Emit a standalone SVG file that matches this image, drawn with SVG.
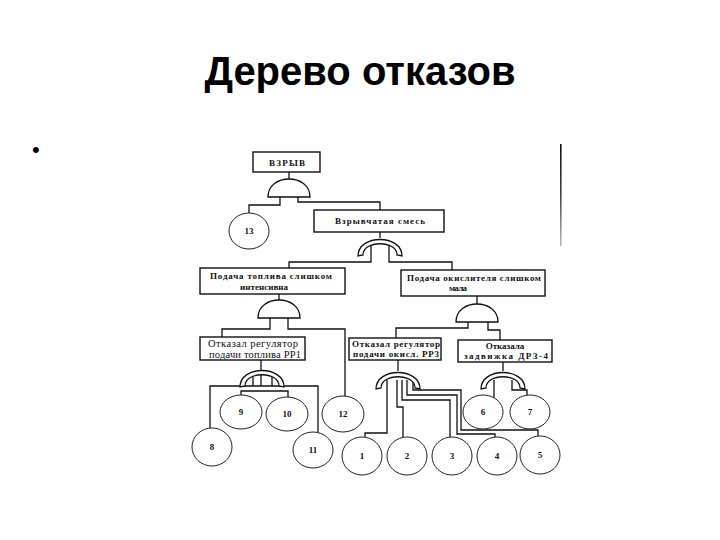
<svg xmlns="http://www.w3.org/2000/svg" xmlns:xlink="http://www.w3.org/1999/xlink" width="720" height="540" viewBox="0 0 720 540">
<style>
.bg{fill:#ffffff}
.box{fill:#ffffff;stroke:#111;stroke-width:1.4}
.circ{fill:#ffffff;stroke:#222;stroke-width:1}
.gate{fill:#ffffff;stroke:#111;stroke-width:1.3}
.con{fill:none;stroke:#111;stroke-width:1.3}
.lbl{font-family:"Liberation Serif","DejaVu Serif",serif;font-size:9px;font-weight:bold;fill:#111;text-anchor:middle}
.lbl2{font-family:"Liberation Serif","DejaVu Serif",serif;font-size:10.5px;fill:#111;text-anchor:middle}
.num{font-family:"Liberation Serif","DejaVu Serif",serif;font-size:9px;font-weight:bold;fill:#111;text-anchor:middle}
.title{font-family:"Liberation Sans",Arial,sans-serif;font-size:40px;font-weight:bold;fill:#000;text-anchor:middle}
.bullet{font-family:"Liberation Sans",Arial,sans-serif;font-size:22px;fill:#000}
</style>
<defs>
<path id="andg" class="gate" d="M-21,0 C-21,-24 21,-24 21,0 Z"/>
<path id="org" class="gate" d="M-22,2 C-22,-20 22,-20 22,2 L17,1 C17,-14 -17,-14 -17,1 Z"/>
<linearGradient id="fade" x1="0" y1="0" x2="0" y2="1">
<stop offset="0" stop-color="#111"/>
<stop offset="0.5" stop-color="#444"/>
<stop offset="1" stop-color="#bbb"/>
</linearGradient>
</defs>
<rect class="bg" x="0" y="0" width="720" height="540"/>
<text class="title" x="360" y="85">Дерево отказов</text>
<text class="bullet" x="32" y="157">•</text>
<rect x="560" y="144" width="1.6" height="102" fill="url(#fade)"/>

<g id="connectors">
<path class="con" d="M289,172 V179"/>
<path class="con" d="M280,197 V205 H249 V213"/>
<path class="con" d="M298,197 V202 H380 V210"/>
<path class="con" d="M380,232 V238"/>
<path class="con" d="M371,246 V262 H289 V268"/>
<path class="con" d="M389,246 V262 H452 V270"/>
<path class="con" d="M279,294 V300"/>
<path class="con" d="M270,318 V329 H222 V337"/>
<path class="con" d="M288,318 V329 H345 V396"/>
<path class="con" d="M477,296 V304"/>
<path class="con" d="M468,322 V328 H396 V338"/>
<path class="con" d="M488,322 V330 H500 V340"/>
<path class="con" d="M261,360 V386"/>
<path class="con" d="M253,377 V386"/>
<path class="con" d="M272,377 V386"/>
<path class="con" d="M210,428 V386 H318 V432"/>
<path class="con" d="M241,395 V391 H288 V397"/>
<path class="con" d="M398,360 V371"/>
<path class="con" d="M387,380 V433 H365 V437"/>
<path class="con" d="M397,380 V407 H403 V437"/>
<path class="con" d="M402,380 V400 H450 V437"/>
<path class="con" d="M407,380 V395 H457 V434 H495 V437"/>
<path class="con" d="M413,380 V390 H461 V430 H538 V436"/>
<path class="con" d="M503,362 V371"/>
<path class="con" d="M494,380 V398"/>
<path class="con" d="M512,380 V390 H527 V395"/>
</g>

<g id="gates">
<use xlink:href="#andg" href="#andg" x="289" y="197"/>
<use xlink:href="#org" href="#org" x="380" y="254"/>
<use xlink:href="#andg" href="#andg" x="279" y="318"/>
<use xlink:href="#andg" href="#andg" x="477" y="322"/>
<use xlink:href="#org" href="#org" x="262" y="385"/>
<use xlink:href="#org" href="#org" x="398" y="387"/>
<use xlink:href="#org" href="#org" x="503" y="387"/>
</g>

<g id="n-vzryv">
<rect class="box" x="253" y="152" width="67" height="20"/>
<text class="lbl" x="287" y="166" textLength="36">ВЗРЫВ</text>
</g>
<g id="n-smes">
<rect class="box" x="314" y="210" width="130" height="22"/>
<text class="lbl" x="380" y="224" textLength="90">Взрывчатая смесь</text>
</g>
<g id="n-toplivo">
<rect class="box" x="200" y="268" width="145" height="26"/>
<text class="lbl" x="271" y="279" textLength="122">Подача топлива слишком</text>
<text class="lbl" x="264" y="290" textLength="48">интенсивна</text>
</g>
<g id="n-okisl">
<rect class="box" x="401" y="270" width="144" height="26"/>
<text class="lbl" x="474" y="281" textLength="134">Подача окислителя слишком</text>
<text class="lbl" x="458" y="291" textLength="18">мала</text>
</g>
<g id="n-rr1">
<rect class="box" x="200" y="337" width="105" height="23"/>
<text class="lbl2" x="253" y="347" textLength="90">Отказал регулятор</text>
<text class="lbl2" x="255" y="357.5" textLength="92">подачи топлива РР1</text>
</g>
<g id="n-rr3">
<rect class="box" x="349" y="338" width="92" height="22"/>
<text class="lbl" x="396" y="347" textLength="88">Отказал регулятор</text>
<text class="lbl" x="396" y="357" textLength="86">подачи окисл. РР3</text>
</g>
<g id="n-drz">
<rect class="box" x="458" y="340" width="94" height="22"/>
<text class="lbl" x="505" y="349">Отказала</text>
<text class="lbl" x="506" y="359" textLength="84">задвижка ДРЗ-4</text>
</g>

<g id="n-13"><ellipse class="circ" cx="249" cy="231" rx="20" ry="18"/><text class="num" x="249" y="234">13</text></g>
<g id="n-9"><ellipse class="circ" cx="241" cy="412" rx="21" ry="17"/><text class="num" x="241" y="415">9</text></g>
<g id="n-10"><ellipse class="circ" cx="287" cy="414" rx="21" ry="17"/><text class="num" x="287" y="417">10</text></g>
<g id="n-12"><ellipse class="circ" cx="343" cy="414" rx="21" ry="18"/><text class="num" x="343" y="417">12</text></g>
<g id="n-8"><ellipse class="circ" cx="212" cy="447" rx="20" ry="19"/><text class="num" x="212" y="450">8</text></g>
<g id="n-11"><ellipse class="circ" cx="313" cy="450" rx="20" ry="18"/><text class="num" x="313" y="453">11</text></g>
<g id="n-1"><ellipse class="circ" cx="362" cy="456" rx="20" ry="19"/><text class="num" x="362" y="459">1</text></g>
<g id="n-2"><ellipse class="circ" cx="407" cy="456" rx="20" ry="19"/><text class="num" x="407" y="459">2</text></g>
<g id="n-3"><ellipse class="circ" cx="452" cy="456" rx="20" ry="19"/><text class="num" x="452" y="459">3</text></g>
<g id="n-4"><ellipse class="circ" cx="497" cy="456" rx="20" ry="19"/><text class="num" x="497" y="459">4</text></g>
<g id="n-5"><ellipse class="circ" cx="540" cy="455" rx="20" ry="19"/><text class="num" x="540" y="458">5</text></g>
<g id="n-6"><ellipse class="circ" cx="483" cy="412" rx="20" ry="17"/><text class="num" x="483" y="415">6</text></g>
<g id="n-7"><ellipse class="circ" cx="530" cy="412" rx="20" ry="17"/><text class="num" x="530" y="415">7</text></g>
</svg>
